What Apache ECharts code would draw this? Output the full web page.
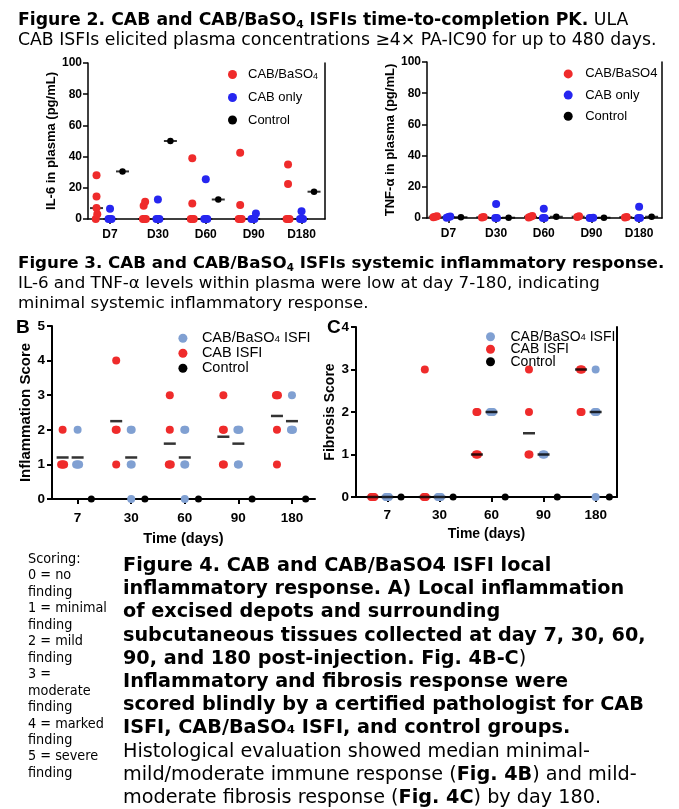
<!DOCTYPE html>
<html><head><meta charset="utf-8">
<script src="https://cdn.jsdelivr.net/npm/echarts@6/dist/echarts.min.js"></script>
<style>
html,body{margin:0;padding:0;background:#fff;}
#wrap{position:relative;width:679px;height:809px;overflow:hidden;background:#fff;}
#chart{position:absolute;left:0;top:0;width:679px;height:809px;}
.cap{position:absolute;white-space:nowrap;color:#000;font-family:'DejaVu Sans',Verdana,sans-serif;}
.cap sub{font-size:0.62em;vertical-align:-0.3em;line-height:0;}
.ref{display:inline-block;}
.lab{position:absolute;font-family:'Liberation Sans',Arial,sans-serif;font-weight:bold;font-size:19px;color:#000;}
</style></head>
<body>
<div id="wrap">
<div id="chart"></div>
<div class="cap" data-w="639" style="left:18px;top:9px;font-size:16px;line-height:20px;"><b>Figure 2. CAB and CAB/BaSO<sub>4</sub> ISFIs time-to-completion PK.</b> ULA<br><span class="ref">CAB ISFIs elicited plasma concentrations ≥4× PA-IC90 for up to 480 days.</span></div>
<div class="cap" data-w="647" style="left:18px;top:252px;font-size:16px;line-height:20px;"><span class="ref"><b>Figure 3. CAB and CAB/BaSO<sub>4</sub> ISFIs systemic inflammatory response.</b></span><br>IL-6 and TNF-α levels within plasma were low at day 7-180, indicating<br>minimal systemic inflammatory response.</div>
<div class="cap" data-w="523" style="left:123px;top:553px;font-size:18px;line-height:23.2px;"><b>Figure 4. CAB and CAB/BaSO4 ISFI local<br>inflammatory response. A) Local inflammation<br>of excised depots and surrounding<br><span class="ref">subcutaneous tissues collected at day 7, 30, 60,</span><br>90, and 180 post-injection. Fig. 4B-C</b>)<br><b>Inflammatory and fibrosis response were<br>scored blindly by a certified pathologist for CAB<br>ISFI, CAB/BaSO₄ ISFI, and control groups.</b><br>Histological evaluation showed median minimal-<br>mild/moderate immune response (<b>Fig. 4B</b>) and mild-<br>moderate fibrosis response (<b>Fig. 4C</b>) by day 180.</div>
<div class="cap" data-w="79" style="left:28px;top:550px;font-size:14px;line-height:16.46px;font-family:'DejaVu Sans Condensed','Liberation Sans Narrow','DejaVu Sans',sans-serif;">Scoring:<br>0 = no<br>finding<br><span class="ref">1 = minimal</span><br>finding<br>2 = mild<br>finding<br>3 =<br>moderate<br>finding<br>4 = marked<br>finding<br>5 = severe<br>finding</div>
<div class="lab" style="left:16px;top:316px;">B</div>
<div class="lab" style="left:327px;top:316px;">C</div>
</div>
<script>
// ---------------- DATA ----------------
const il6Days = ['D7', 'D30', 'D60', 'D90', 'D180'];
const il6CabBaso4 = [[28, 14.5, 7, 3, 0], [11, 8.5, 0, 0, 0], [39, 10, 0, 0, 0], [42.5, 9, 0, 0, 0], [35, 22.5, 0, 0, 0]];
const il6CabOnly = [[6.5, 0, 0, 0], [12.5, 0, 0, 0], [25.5, 0, 0, 0], [3.5, 0, 0, 0], [5, 0, 0, 0]];
const il6Control = [[30.5], [50], [12.5], [], [17.5]];

const tnfDays = ['D7', 'D30', 'D60', 'D90', 'D180'];
const tnfCabBaso4 = [[1.2, 0.8, 0.5], [0.6, 0.3], [1.3, 0.8, 0.4], [1.1, 0.6], [0.7, 0.4]];
const tnfCabOnly = [[1.0, 0.6, 0.2], [9, 0, 0], [6, 0, 0], [0.2, 0, 0], [7.2, 0, 0]];
const tnfControl = [[0.5], [0.2], [0.8], [0.2], [0.8]];

const plasmaTicks = [0, 20, 40, 60, 80, 100];

const scoreDays = ['7', '30', '60', '90', '180'];
const inflCabBaso4 = [[2, 1, 1, 1, 1], [2, 2, 1, 1, 0], [2, 2, 1, 1, 0], [2, 2, 2, 1, 1], [3, 2, 2, 2]];
const inflCab = [[2, 1, 1, 1, 1], [4, 2, 2, 1], [3, 2, 1, 1, 1], [3, 2, 2, 1, 1], [3, 3, 3, 2, 1]];
const inflControl = [[0], [0], [0], [0], [0]];
const inflTicks = [0, 1, 2, 3, 4, 5];

const fibCabBaso4 = [[0, 0, 0, 0], [0, 0, 0, 0], [2, 2, 2, 2], [1, 1, 1], [3, 2, 2, 2, 0]];
const fibCab = [[0, 0, 0, 0], [3, 0, 0, 0], [2, 2, 1, 1, 1], [3, 2, 1, 1], [3, 3, 3, 2, 2]];
const fibControl = [[0], [0], [0], [0], [0]];
const fibTicks = [0, 1, 2, 3, 4];

// ---------------- HELPERS ----------------
const FONT = "'Liberation Sans', Arial, sans-serif";
const RED = '#ef2b2b', BLUE = '#2626f0', STEEL = '#80a0d2', BLACK = '#000000';

function median(a) {
  if (!a.length) return null;
  const s = a.slice().sort((x, y) => x - y); const n = s.length;
  return n % 2 ? s[(n - 1) / 2] : (s[n / 2 - 1] + s[n / 2]) / 2;
}
function mean(a) { return a.length ? a.reduce((p, c) => p + c, 0) / a.length : null; }

// spreads points with (nearly) equal values horizontally, like a GraphPad scatter
function swarm(groups, offPx, stepPx, pxX, tol) {
  const pts = [];
  groups.forEach((vals, i) => {
    const sorted = vals.slice().sort((a, b) => a - b);
    const clusters = [];
    sorted.forEach(v => {
      const c = clusters[clusters.length - 1];
      if (c && Math.abs(v - c[c.length - 1]) <= tol) c.push(v); else clusters.push([v]);
    });
    clusters.forEach(c => {
      c.forEach((v, k) => {
        const dx = offPx + (k - (c.length - 1) / 2) * stepPx;
        pts.push([i + dx / pxX, v]);
      });
    });
  });
  return pts;
}
function statPts(groups, offPx, pxX, fn) {
  const pts = [];
  groups.forEach((vals, i) => { const m = fn(vals); if (m !== null) pts.push([i + offPx / pxX, m]); });
  return pts;
}

const panels = [
  { // IL-6
    grid: { left: 88, top: 63, width: 237, height: 156 }, xmin: -0.46, xmax: 4.49, ticks: plasmaTicks, labels: il6Days,
    yName: 'IL-6 in plasma (pg/mL)', yNameGap: 27, yNameSize: 13, yLabSize: 12, xLabSize: 12, xLabMargin: 10, yLabMargin: 6,
    xName: '', right: true, axisW: 1.5, tickLen: 5,
    groups: [
      { name: 'CAB/BaSO4', data: il6CabBaso4, color: RED, off: -13.5, size: 8 },
      { name: 'CAB only', data: il6CabOnly, color: BLUE, off: 0, size: 8 },
      { name: 'Control', data: il6Control, color: BLACK, off: 12.5, size: 6.5 }],
    stat: median, statOver: false, statSize: [13, 2], tol: 3.5, step: 1.5
  },
  { // TNF
    grid: { left: 427, top: 62, width: 235, height: 156 }, xmin: -0.45, xmax: 4.48, ticks: plasmaTicks, labels: tnfDays,
    yName: 'TNF-α in plasma (pg/mL)', yNameGap: 28, yNameSize: 13, yLabSize: 12, xLabSize: 12, xLabMargin: 10, yLabMargin: 6,
    xName: '', right: true, axisW: 1.5, tickLen: 5,
    groups: [
      { name: 'CAB/BaSO4', data: tnfCabBaso4, color: RED, off: -13.3, size: 8 },
      { name: 'CAB only', data: tnfCabOnly, color: BLUE, off: 0, size: 8 },
      { name: 'Control', data: tnfControl, color: BLACK, off: 12.5, size: 6.5 }],
    stat: median, statOver: false, statSize: [13, 2], tol: 3.5, step: 1.8
  },
  { // Inflammation
    grid: { left: 52, top: 326, width: 263, height: 173 }, xmin: -0.478, xmax: 4.43, ticks: inflTicks, labels: scoreDays,
    yName: 'Inflammation Score', yNameGap: 17, yNameSize: 15, yLabSize: 13.5, xLabSize: 13.5, xLabMargin: 12, yLabMargin: 7,
    xName: 'Time (days)', xNameGap: 32, xNameSize: 14.5, right: false, axisW: 2, tickLen: 5,
    groups: [
      { name: 'CAB ISFI', data: inflCab, color: RED, off: -15, size: 8 },
      { name: 'CAB/BaSO4 ISFI', data: inflCabBaso4, color: STEEL, off: 0, size: 8 },
      { name: 'Control', data: inflControl, color: BLACK, off: 13.7, size: 7 }],
    stat: mean, statOver: true, statSize: [12, 2.5], tol: 0.01, step: 1, statGroups: 2
  },
  { // Fibrosis
    grid: { left: 356, top: 327, width: 261, height: 170 }, xmin: -0.602, xmax: 4.41, ticks: fibTicks, labels: scoreDays,
    yName: 'Fibrosis Score', yNameGap: 16, yNameSize: 14, yLabSize: 13.5, xLabSize: 13.5, xLabMargin: 11, yLabMargin: 7,
    xName: 'Time (days)', xNameGap: 30, xNameSize: 14, right: true, axisW: 2, tickLen: 5,
    groups: [
      { name: 'CAB ISFI', data: fibCab, color: RED, off: -14.6, size: 8 },
      { name: 'CAB/BaSO4 ISFI', data: fibCabBaso4, color: STEEL, off: 0, size: 8 },
      { name: 'Control', data: fibControl, color: BLACK, off: 13.7, size: 7 }],
    stat: median, statOver: true, statSize: [12, 2.5], tol: 0.01, step: 1, statGroups: 2
  }
];

const grids = [], xAxes = [], yAxes = [], series = [];
panels.forEach((p, gi) => {
  grids.push(Object.assign({ outerBoundsMode: 'none', containLabel: false }, p.grid));
  const ymin = p.ticks[0], ymax = p.ticks[p.ticks.length - 1], yint = p.ticks[1] - p.ticks[0];
  const pxX = p.grid.width / (p.xmax - p.xmin);
  const pos = p.labels.map((_, i) => i);
  const axisLineStyle = { color: '#000', width: p.axisW };
  xAxes.push({
    type: 'value', gridIndex: gi, min: p.xmin, max: p.xmax, splitLine: { show: false },
    axisLine: { show: true, onZero: false, lineStyle: axisLineStyle },
    axisTick: { show: true, customValues: pos, length: p.tickLen, lineStyle: axisLineStyle },
    axisLabel: { show: true, customValues: pos, formatter: v => p.labels[Math.round(v)], color: '#000', fontFamily: FONT, fontWeight: 'bold', fontSize: p.xLabSize, margin: p.xLabMargin },
    name: p.xName, nameLocation: 'middle', nameGap: p.xNameGap || 0,
    nameTextStyle: { color: '#000', fontFamily: FONT, fontWeight: 'bold', fontSize: p.xNameSize || 12 }
  });
  yAxes.push({
    type: 'value', gridIndex: gi, min: ymin, max: ymax, interval: yint, splitLine: { show: false },
    axisLine: { show: true, onZero: false, lineStyle: axisLineStyle },
    axisTick: { show: true, length: p.tickLen, lineStyle: axisLineStyle },
    axisLabel: { color: '#000', fontFamily: FONT, fontWeight: 'bold', fontSize: p.yLabSize, margin: p.yLabMargin },
    name: p.yName, nameLocation: 'middle', nameGap: p.yNameGap, nameRotate: 90,
    nameTextStyle: { color: '#000', fontFamily: FONT, fontWeight: 'bold', fontSize: p.yNameSize }
  });
  const yIdx = yAxes.length - 1;
  if (p.right) {
    yAxes.push({
      type: 'value', gridIndex: gi, min: ymin, max: ymax, position: 'right', splitLine: { show: false },
      axisLine: { show: true, onZero: false, lineStyle: axisLineStyle }, axisTick: { show: false }, axisLabel: { show: false }
    });
  }
  const statSeries = [];
  p.groups.forEach((g, k) => {
    if (p.statGroups === undefined || k < p.statGroups) {
      statSeries.push({
        type: 'scatter', name: 'stat', xAxisIndex: gi, yAxisIndex: yIdx, symbol: 'rect', symbolSize: p.statSize,
        itemStyle: { color: '#000' }, z: p.statOver ? 4 : 1, silent: true,
        data: statPts(g.data, g.off, pxX, p.stat)
      });
    }
  });
  p.groups.forEach(g => {
    series.push({
      type: 'scatter', name: g.name, xAxisIndex: gi, yAxisIndex: yIdx, symbol: 'circle', symbolSize: g.size,
      itemStyle: { color: g.color, opacity: 1 }, z: 2, silent: true,
      data: swarm(g.data, g.off, p.step, pxX, p.tol)
    });
  });
  statSeries.forEach(s => series.push(s));
});

function legendCfg(names, left, top, itemW, gap, fontSize, lh, subMap) {
  return {
    data: names, orient: 'vertical', left: left, top: top, itemWidth: itemW, itemHeight: 9, itemGap: gap,
    icon: 'circle', selectedMode: false, padding: 0,
    formatter: n => subMap && subMap[n] ? subMap[n] : '{a|' + n + '}',
    textStyle: {
      rich: {
        a: { fontFamily: FONT, fontSize: fontSize, color: '#000', lineHeight: lh, verticalAlign: 'middle' },
        s: { fontFamily: FONT, fontSize: fontSize * 0.68, color: '#000', lineHeight: lh * 0.45, verticalAlign: 'bottom' }
      }
    }
  };
}

const option = {
  animation: false,
  backgroundColor: 'transparent',
  grid: grids, xAxis: xAxes, yAxis: yAxes, series: series,
  legend: [
    legendCfg(['CAB/BaSO4', 'CAB only', 'Control'], 228, 68, 21, 9.5, 13, 14, { 'CAB/BaSO4': '{a|CAB/BaSO}{s|4}' }),
    legendCfg(['CAB/BaSO4', 'CAB only', 'Control'], 563.7, 67.4, 24, 8.2, 13, 14, null),
    legendCfg(['CAB/BaSO4 ISFI', 'CAB ISFI', 'Control'], 178.4, 330.7, 28, 0, 14.5, 13, { 'CAB/BaSO4 ISFI': '{a|CAB/BaSO}{s|4}{a| ISFI}' }),
    legendCfg(['CAB/BaSO4 ISFI', 'CAB ISFI', 'Control'], 486, 329.7, 30, -1.5, 14, 12, { 'CAB/BaSO4 ISFI': '{a|CAB/BaSO}{s|4}{a| ISFI}' })
  ]
};

const chart = echarts.init(document.getElementById('chart'), null, { renderer: 'canvas' });
chart.setOption(option);

// fit caption font sizes to the reference line widths
document.querySelectorAll('.cap').forEach(el => {
  const ref = el.querySelector('.ref');
  const target = parseFloat(el.dataset.w);
  if (!ref || !target) return;
  const fs = parseFloat(el.style.fontSize);
  const w = ref.getBoundingClientRect().width;
  if (w > 0) el.style.fontSize = (fs * target / w).toFixed(2) + 'px';
});
</script>
</body></html>
